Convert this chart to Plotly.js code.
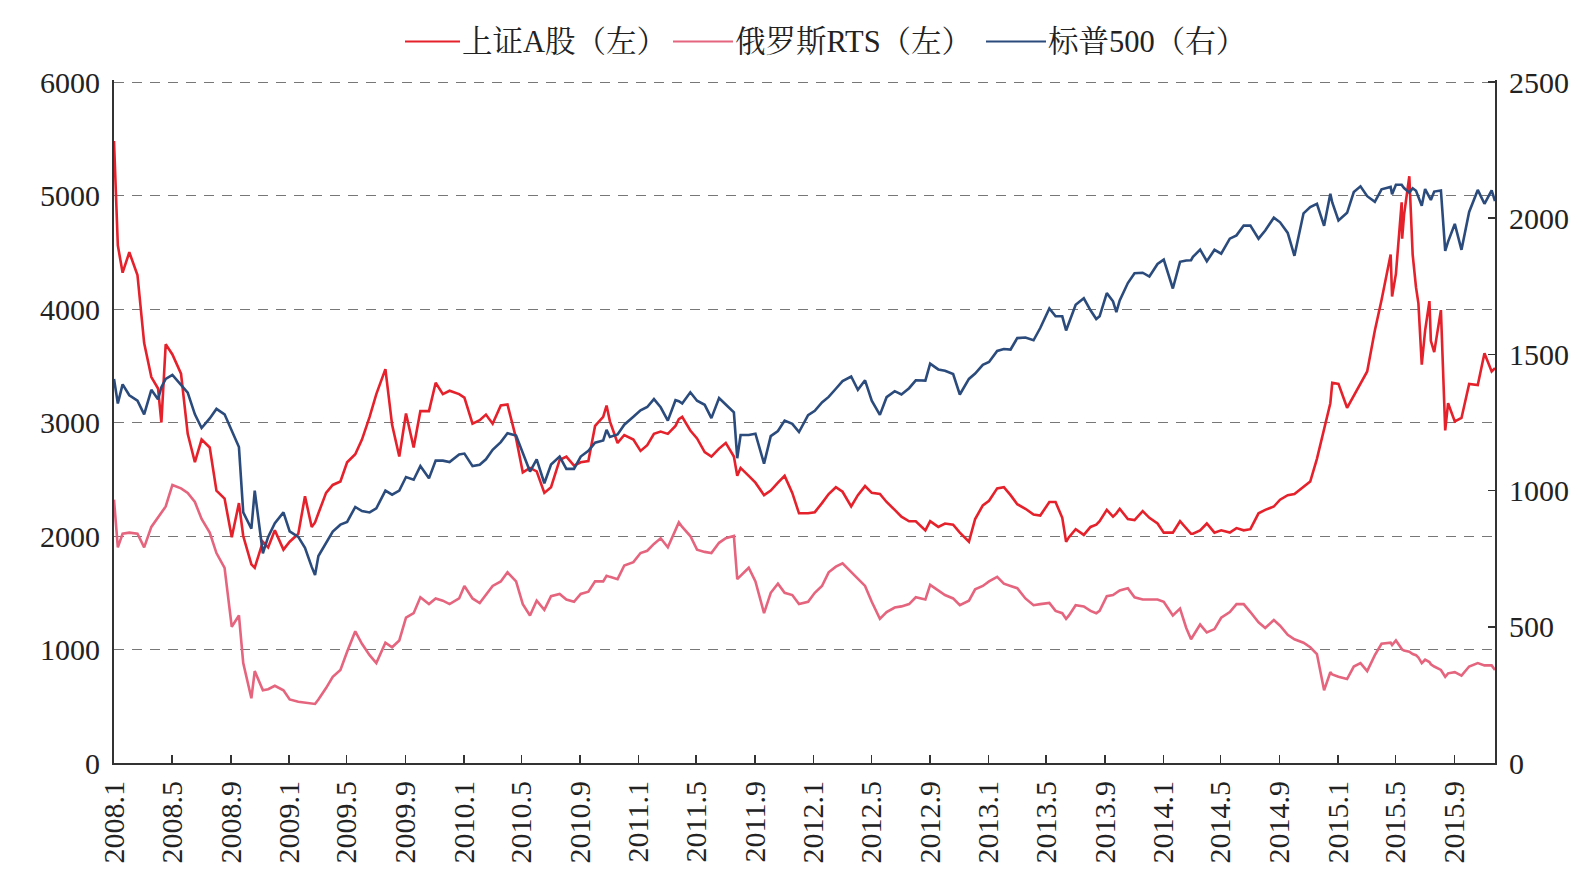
<!DOCTYPE html>
<html>
<head>
<meta charset="utf-8">
<script src="https://cdn.plot.ly/plotly-3.0.1.min.js"></script>
<style>
  html, body { margin: 0; padding: 0; background: #ffffff; }
  #chart { width: 1586px; height: 893px; }
</style>
</head>
<body>
<div id="chart"></div>
<script>
// Observation dates (approx. semi-monthly, plus turning points)
const dates = [
  "2008-01-14","2008-01-22","2008-02-01","2008-02-15","2008-03-03","2008-03-17","2008-04-01","2008-04-15","2008-04-22","2008-05-01","2008-05-15","2008-06-02","2008-06-16","2008-07-01","2008-07-15","2008-08-01","2008-08-15","2008-09-01","2008-09-16","2008-10-01","2008-10-10","2008-10-27","2008-11-03","2008-11-20","2008-12-01","2008-12-15",
  "2009-01-02","2009-01-15","2009-02-02","2009-02-16","2009-03-02","2009-03-09","2009-03-16","2009-04-01","2009-04-15","2009-05-01","2009-05-15","2009-06-01","2009-06-15","2009-07-01","2009-07-15","2009-08-03","2009-08-17","2009-09-01","2009-09-15","2009-10-01","2009-10-15","2009-11-02","2009-11-16","2009-12-01","2009-12-15",
  "2010-01-04","2010-01-15","2010-02-01","2010-02-16","2010-03-01","2010-03-15","2010-04-01","2010-04-15","2010-05-03","2010-05-17","2010-06-01","2010-06-15","2010-07-01","2010-07-15","2010-08-02","2010-08-16","2010-09-01","2010-09-15","2010-10-01","2010-10-15","2010-11-01","2010-11-08","2010-11-15","2010-12-01","2010-12-15",
  "2011-01-03","2011-01-18","2011-02-01","2011-02-15","2011-03-01","2011-03-16","2011-04-01","2011-04-08","2011-04-15","2011-05-02","2011-05-16","2011-06-01","2011-06-15","2011-07-01","2011-07-15","2011-08-01","2011-08-08","2011-08-15","2011-09-01","2011-09-15","2011-10-03","2011-10-17","2011-11-01","2011-11-15","2011-12-01","2011-12-15",
  "2012-01-03","2012-01-17","2012-02-01","2012-02-15","2012-03-01","2012-03-15","2012-04-02","2012-04-16","2012-05-01","2012-05-15","2012-06-01","2012-06-15","2012-07-02","2012-07-16","2012-08-01","2012-08-15","2012-09-04","2012-09-14","2012-10-01","2012-10-15","2012-11-01","2012-11-15","2012-12-04","2012-12-17",
  "2013-01-02","2013-01-15","2013-02-01","2013-02-15","2013-03-01","2013-03-15","2013-04-01","2013-04-18","2013-05-02","2013-05-21","2013-06-03","2013-06-17","2013-06-25","2013-07-01","2013-07-15","2013-08-01","2013-08-15","2013-08-27","2013-09-03","2013-09-18","2013-10-01","2013-10-08","2013-10-15","2013-11-01","2013-11-15","2013-12-02","2013-12-16",
  "2014-01-02","2014-01-15","2014-02-03","2014-02-18","2014-03-03","2014-03-13","2014-03-17","2014-04-01","2014-04-15","2014-05-01","2014-05-15","2014-06-02","2014-06-16","2014-07-01","2014-07-15","2014-08-01","2014-08-15","2014-09-02","2014-09-15","2014-10-01","2014-10-15","2014-11-03","2014-11-17","2014-12-01","2014-12-16","2014-12-29",
  "2015-01-02","2015-01-15","2015-02-02","2015-02-16","2015-03-02","2015-03-16","2015-04-01","2015-04-15","2015-05-04","2015-05-07","2015-05-15","2015-05-27","2015-05-28","2015-06-01","2015-06-12","2015-06-19","2015-06-26","2015-07-01","2015-07-08","2015-07-15","2015-07-24","2015-07-27","2015-08-03","2015-08-17","2015-08-26","2015-09-01","2015-09-15","2015-09-29","2015-10-15","2015-11-02","2015-11-16","2015-12-01","2015-12-08"
];

// 上证A股 (left axis)
const shanghaiA = [
  5480,4560,4320,4500,4300,3700,3400,3300,3000,3690,3600,3430,2900,2650,2850,2780,2400,2330,1990,2290,2000,1750,1720,1950,1900,2050,
  1880,1950,2020,2350,2080,2120,2200,2380,2450,2480,2650,2720,2850,3050,3250,3470,2980,2700,3080,2780,3100,3100,3350,3250,3280,
  3250,3220,2990,3020,3070,2990,3150,3160,2860,2560,2600,2570,2380,2430,2670,2700,2620,2650,2660,2970,3050,3150,3010,2820,2890,
  2850,2750,2800,2900,2920,2900,2970,3030,3050,2930,2860,2740,2700,2770,2820,2700,2530,2600,2530,2470,2360,2400,2470,2530,2380,2200,
  2200,2210,2290,2370,2430,2390,2260,2360,2440,2380,2370,2300,2230,2170,2130,2130,2050,2130,2080,2110,2100,2030,1950,2150,
  2270,2310,2420,2430,2360,2280,2240,2190,2180,2300,2300,2160,1950,1990,2060,2010,2080,2100,2130,2230,2170,2200,2240,2150,2140,2220,2160,
  2110,2030,2030,2130,2070,2020,2020,2050,2110,2030,2050,2030,2070,2050,2060,2200,2230,2260,2320,2360,2370,2430,2480,2680,2940,3170,
  3350,3340,3130,3240,3340,3450,3810,4080,4480,4110,4310,4940,4620,4830,5170,4480,4190,4050,3510,3810,4070,3720,3620,3990,2930,3170,3010,3040,3340,3330,3610,3450,3480
];

// 俄罗斯RTS (left axis)
const russiaRTS = [
  2320,1900,2020,2030,2020,1900,2080,2160,2200,2260,2450,2420,2380,2300,2150,2030,1850,1720,1200,1300,880,570,810,640,650,680,
  640,560,540,530,520,520,560,660,760,820,980,1160,1050,950,880,1060,1020,1080,1280,1320,1460,1400,1450,1430,1400,
  1450,1560,1450,1410,1480,1560,1600,1680,1600,1400,1300,1430,1350,1470,1490,1440,1420,1490,1510,1600,1600,1650,1640,1620,1740,
  1770,1850,1870,1930,1980,1900,2050,2120,2080,2000,1880,1860,1850,1940,1980,2000,1620,1650,1720,1600,1320,1500,1580,1500,1480,1400,
  1420,1500,1560,1680,1730,1760,1680,1620,1560,1420,1270,1330,1370,1380,1400,1460,1440,1570,1520,1480,1450,1390,1430,1530,
  1560,1600,1640,1580,1560,1540,1450,1390,1400,1410,1340,1320,1270,1300,1390,1380,1340,1320,1340,1470,1480,1500,1520,1540,1460,1440,1440,
  1440,1420,1300,1360,1190,1090,1120,1220,1150,1180,1280,1330,1400,1400,1330,1240,1190,1260,1210,1130,1090,1060,1020,960,640,800,
  780,760,740,850,880,810,950,1050,1060,1040,1080,1010,1000,990,980,960,950,930,880,910,890,870,850,820,760,790,800,770,850,880,860,860,820
];

// 标普500 (right axis)
const sp500 = [
  1410,1320,1390,1350,1330,1280,1370,1335,1380,1410,1425,1390,1360,1280,1230,1265,1300,1280,1220,1160,920,860,1000,770,830,880,
  920,850,830,790,720,690,760,810,850,875,885,940,925,920,935,1000,985,1000,1050,1040,1090,1045,1110,1110,1105,
  1133,1136,1090,1095,1115,1150,1178,1211,1202,1136,1070,1115,1027,1096,1125,1080,1080,1125,1146,1176,1184,1223,1197,1206,1242,
  1271,1295,1307,1336,1306,1257,1332,1328,1320,1361,1330,1315,1266,1340,1316,1287,1119,1204,1204,1209,1099,1200,1219,1257,1245,1215,
  1277,1293,1324,1344,1374,1402,1419,1370,1405,1330,1278,1343,1365,1353,1376,1405,1404,1466,1445,1440,1428,1353,1410,1430,
  1462,1472,1513,1520,1518,1560,1562,1552,1597,1669,1640,1640,1588,1614,1682,1706,1662,1630,1640,1725,1695,1655,1698,1762,1798,1800,1786,
  1832,1848,1742,1840,1845,1846,1858,1885,1842,1884,1870,1925,1937,1973,1973,1925,1955,2002,1985,1946,1862,2018,2041,2053,1972,2090,
  2058,1992,2020,2096,2117,2081,2060,2106,2115,2088,2123,2123,2120,2111,2094,2110,2101,2077,2046,2107,2079,2067,2098,2102,1880,1914,1979,1884,2023,2104,2053,2102,2063
];

const seriesNames = ["上证A股（左）", "俄罗斯RTS（左）", "标普500（右）"];
const seriesColors = ["#e5212b", "#e5647e", "#2b4b7c"];

const tickLabels = ["2008.1","2008.5","2008.9","2009.1","2009.5","2009.9","2010.1","2010.5","2010.9",
  "2011.1","2011.5","2011.9","2012.1","2012.5","2012.9","2013.1","2013.5","2013.9",
  "2014.1","2014.5","2014.9","2015.1","2015.5","2015.9"];
// tick k sits at the start date + 4k months (labels follow the data's first day)
const tickVals = tickLabels.map(function (s) {
  const p = s.split(".");
  const m = p[1].length < 2 ? "0" + p[1] : p[1];
  return p[0] + "-" + m + "-14";
});

const xRange = ["2008-01-14", "2015-12-08"];
const leftRange = [0, 6000];
const rightRange = [0, 2500];

// figure geometry (pixels)
const W = 1586, H = 893;
const M = { l: 114, r: 91, t: 80, b: 130 };
const plotW = W - M.l - M.r, plotH = H - M.t - M.b;
const pxX = function (px) { return (px - M.l) / plotW; };
const pxY = function (py) { return (H - M.b - py) / plotH; };

// manual legend: line start / end and text start, in pixels
const legendItems = [
  { x0: 405, x1: 460, tx: 460 },
  { x0: 673, x1: 733, tx: 733 },
  { x0: 986, x1: 1046, tx: 1046 }
];
const legendY = 41.5;

const serif = '"Liberation Serif", "Times New Roman", serif';
const legendFont = '"Liberation Serif", "Noto Serif CJK SC", "Noto Sans CJK SC", serif';

// small headroom so the 6000 gridline is drawn; right axis scaled identically
const pad = 1.003;

const traces = [
  { x: dates, y: shanghaiA, name: seriesNames[0], type: "scatter", mode: "lines",
    line: { color: seriesColors[0], width: 2.6 }, yaxis: "y" },
  { x: dates, y: russiaRTS, name: seriesNames[1], type: "scatter", mode: "lines",
    line: { color: seriesColors[1], width: 2.6 }, yaxis: "y" },
  { x: dates, y: sp500, name: seriesNames[2], type: "scatter", mode: "lines",
    line: { color: seriesColors[2], width: 2.6 }, yaxis: "y2" }
];

const shapes = legendItems.map(function (it, i) {
  return { type: "line", xref: "paper", yref: "paper",
    x0: pxX(it.x0), x1: pxX(it.x1), y0: pxY(legendY), y1: pxY(legendY),
    line: { color: seriesColors[i], width: 1.8 } };
});
const annotations = legendItems.map(function (it, i) {
  return { xref: "paper", yref: "paper", x: pxX(it.tx), y: pxY(legendY),
    xanchor: "left", yanchor: "middle", showarrow: false, text: seriesNames[i],
    font: { family: legendFont, size: 30.5, color: "#222" } };
});

const layout = {
  width: W, height: H,
  margin: M,
  paper_bgcolor: "#ffffff", plot_bgcolor: "#ffffff",
  showlegend: false,
  shapes: shapes,
  annotations: annotations,
  xaxis: {
    type: "date", range: xRange,
    tickmode: "array", tickvals: tickVals, ticktext: tickLabels,
    tickangle: -90, ticks: "inside", ticklen: 8, tickwidth: 1.5, tickcolor: "#333",
    showline: true, linecolor: "#333", linewidth: 2,
    showgrid: false, zeroline: false,
    tickfont: { family: serif, size: 30, color: "#222" },
    ticklabelstandoff: 4
  },
  yaxis: {
    range: [leftRange[0], leftRange[1] * pad], tickmode: "linear", tick0: 0, dtick: 1000,
    showgrid: true, gridcolor: "#777", gridwidth: 1, griddash: "10px,8px",
    showline: true, linecolor: "#333", linewidth: 2,
    zeroline: false, ticks: "",
    tickfont: { family: serif, size: 30, color: "#222" },
    ticklabelstandoff: 6
  },
  yaxis2: {
    range: [rightRange[0], rightRange[1] * pad], tickmode: "linear", tick0: 0, dtick: 500,
    overlaying: "y", side: "right",
    showgrid: false, zeroline: false,
    showline: true, linecolor: "#333", linewidth: 2,
    ticks: "inside", ticklen: 7, tickwidth: 1.5, tickcolor: "#333",
    tickfont: { family: serif, size: 30, color: "#222" },
    ticklabelstandoff: 6
  }
};

Plotly.newPlot("chart", traces, layout, { staticPlot: true, displayModeBar: false });
</script>
</body>
</html>
